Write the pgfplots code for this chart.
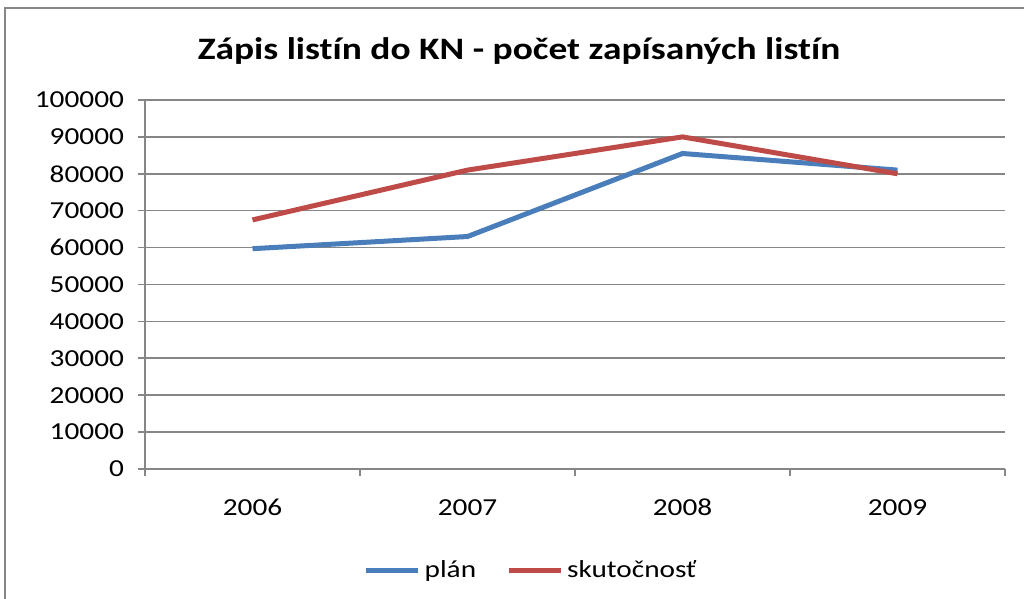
\documentclass[border=0pt]{standalone}
\usepackage{fontspec}
\setmainfont[FakeStretch=1.2, Ligatures=NoCommon]{Carlito}
\usepackage{pgfplots}
\pgfplotsset{compat=1.18}
\definecolor{gridgray}{HTML}{868686}
\definecolor{xlblue}{HTML}{4A7EBB}
\definecolor{xlred}{HTML}{BE4B48}
\begin{document}
\begin{tikzpicture}[x=0.5pt,y=0.5pt]
\useasboundingbox (0,0) rectangle (1024,599);
\draw[gridgray, line width=0.8pt] (5,0) -- (5,591) -- (1024,591);
\node[font=\bfseries\fontsize{15.6}{18}\selectfont] at (519,548) {Zápis listín do KN - počet zapísaných listín};
\begin{axis}[
  at={(72.5pt,65pt)}, anchor=south west,
  width=430pt, height=184.5pt, scale only axis,
  xmin=-0.5, xmax=3.5, ymin=0, ymax=100000,
  axis lines=left, axis line style={-, gridgray, line width=0.8pt},
  xtick={-0.5,0.5,1.5,2.5,3.5},
  xticklabels={2006,2007,2008,2009},
  x tick label as interval,
  ytick={0,10000,...,100000},
  ymajorgrids, grid style={gridgray, line width=0.8pt},
  tick style={gridgray, line width=0.8pt},
  tick align=outside, major tick length=3.5pt,
  scaled y ticks=false,
  /pgf/number format/fixed,
  /pgf/number format/1000 sep={},
  /pgf/number format/assume math mode=true,
  tick label style={font=\fontsize{12.2}{13}\selectfont, text=black},
  y tick label style={xshift=-3.5pt},
  x tick label style={yshift=-20pt, anchor=base, text height=1.5ex, text depth=0pt},
  clip=false,
  legend columns=2,
  legend style={draw=none, fill=none, at={(0.45,-0.274)}, anchor=center, font=\fontsize{12.2}{13}\selectfont, /tikz/every even column/.append style={column sep=13pt}},
  legend image code/.code={\draw[#1] (0pt,0pt) -- (26pt,0pt);},
]
\addplot[xlblue, line width=2.5pt] coordinates {(0,59700) (1,63000) (2,85500) (3,81000)};
\addlegendentry{plán}
\addplot[xlred, line width=2.5pt] coordinates {(0,67500) (1,81000) (2,90000) (3,80000)};
\addlegendentry{skutočnosť}
\end{axis}
\end{tikzpicture}
\end{document}
